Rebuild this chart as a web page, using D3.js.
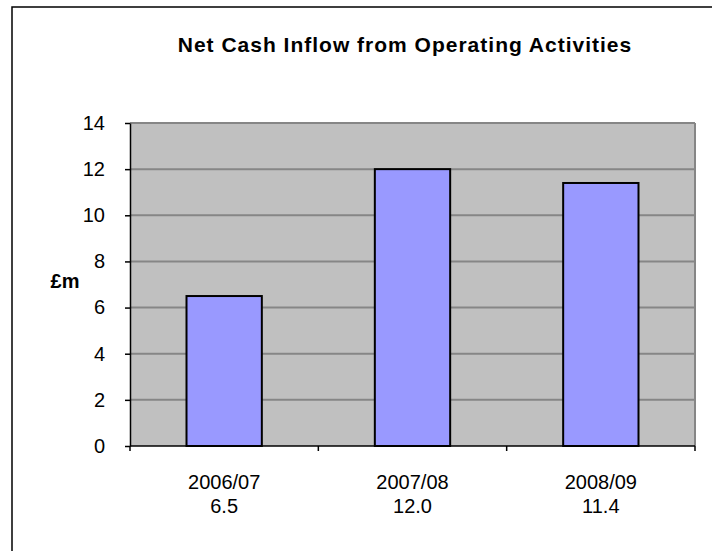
<!DOCTYPE html>
<html>
<head>
<meta charset="utf-8">
<script src="https://cdn.jsdelivr.net/npm/d3@7/dist/d3.min.js"></script>
<style>
  body { margin: 0; background: #fff; }
  svg { display: block; font-family: Arial, "Liberation Sans", sans-serif; }
</style>
</head>
<body>
<script>
// chart data
var categories = ["2006/07", "2007/08", "2008/09"];
var values = [6.5, 12.0, 11.4];
var yTicks = [0, 2, 4, 6, 8, 10, 12, 14];
var title = "Net Cash Inflow from Operating Activities";
var yLabel = "£m";

var w = 712, h = 551;
var plot = { left: 130, right: 695, top: 123, bottom: 446 };

var svg = d3.select("body").append("svg")
  .attr("width", w)
  .attr("height", h);

// outer chart border (runs off the page right and bottom)
svg.append("rect")
  .attr("x", 12).attr("y", 7)
  .attr("width", 740).attr("height", 600)
  .attr("fill", "#fff")
  .attr("stroke", "#000")
  .attr("stroke-width", 1.5);

var x = d3.scaleBand()
  .domain(categories)
  .range([plot.left, plot.right])
  .paddingInner(0.6)
  .paddingOuter(0.3);

var y = d3.scaleLinear()
  .domain([0, 14])
  .range([plot.bottom, plot.top]);

// plot background
svg.append("rect")
  .attr("x", plot.left).attr("y", plot.top)
  .attr("width", plot.right - plot.left)
  .attr("height", plot.bottom - plot.top)
  .attr("fill", "#c0c0c0");

// gridlines
svg.append("g").selectAll("line")
  .data(yTicks.filter(function (d) { return d > 0; }))
  .enter().append("line")
  .attr("x1", plot.left).attr("x2", plot.right)
  .attr("y1", function (d) { return y(d); })
  .attr("y2", function (d) { return y(d); })
  .attr("stroke", "#868686")
  .attr("stroke-width", 2);

// plot border right side
svg.append("line")
  .attr("x1", plot.right).attr("x2", plot.right)
  .attr("y1", plot.top).attr("y2", plot.bottom)
  .attr("stroke", "#868686").attr("stroke-width", 2);

// bars
svg.append("g").selectAll("rect")
  .data(values)
  .enter().append("rect")
  .attr("x", function (d, i) { return x(categories[i]); })
  .attr("y", function (d) { return y(d); })
  .attr("width", x.bandwidth())
  .attr("height", function (d) { return y(0) - y(d); })
  .attr("fill", "#9999ff")
  .attr("stroke", "#000")
  .attr("stroke-width", 2);

// y axis
var yAxis = svg.append("g")
  .attr("transform", "translate(" + plot.left + ",0)")
  .call(d3.axisLeft(y).tickValues(yTicks).tickSize(5).tickSizeOuter(0).tickPadding(20));
yAxis.selectAll("text")
  .attr("font-size", 20)
  .attr("font-family", "Arial, 'Liberation Sans', sans-serif")
  .attr("fill", "#000");
yAxis.select(".domain").attr("stroke", "#000").attr("stroke-width", 1.5);
yAxis.selectAll(".tick line").attr("stroke", "#000").attr("stroke-width", 1.5);

// x axis line + boundary ticks
var step = x.step();
var bounds = d3.range(categories.length + 1).map(function (i) { return plot.left + i * step; });
svg.append("line")
  .attr("x1", plot.left).attr("x2", plot.right)
  .attr("y1", plot.bottom).attr("y2", plot.bottom)
  .attr("stroke", "#000").attr("stroke-width", 1.5);
svg.append("g").selectAll("line")
  .data(bounds)
  .enter().append("line")
  .attr("x1", function (d) { return d; })
  .attr("x2", function (d) { return d; })
  .attr("y1", plot.bottom).attr("y2", plot.bottom + 5)
  .attr("stroke", "#000").attr("stroke-width", 1.5);

// category labels: name + value
var lbl = svg.append("g").selectAll("text")
  .data(categories)
  .enter().append("text")
  .attr("text-anchor", "middle")
  .attr("font-size", 20)
  .attr("fill", "#000");
lbl.append("tspan")
  .attr("x", function (d) { return x(d) + x.bandwidth() / 2; })
  .attr("y", 489)
  .text(function (d) { return d; });
lbl.append("tspan")
  .attr("x", function (d) { return x(d) + x.bandwidth() / 2; })
  .attr("y", 513)
  .text(function (d, i) { return values[i].toFixed(1); });

// title
svg.append("text")
  .attr("x", 405).attr("y", 52)
  .attr("text-anchor", "middle")
  .attr("font-size", 21)
  .attr("font-weight", "bold")
  .attr("letter-spacing", 1)
  .text(title);

// y label
svg.append("text")
  .attr("x", 65).attr("y", 288)
  .attr("text-anchor", "middle")
  .attr("font-size", 20)
  .attr("font-weight", "bold")
  .text(yLabel);
</script>
</body>
</html>
